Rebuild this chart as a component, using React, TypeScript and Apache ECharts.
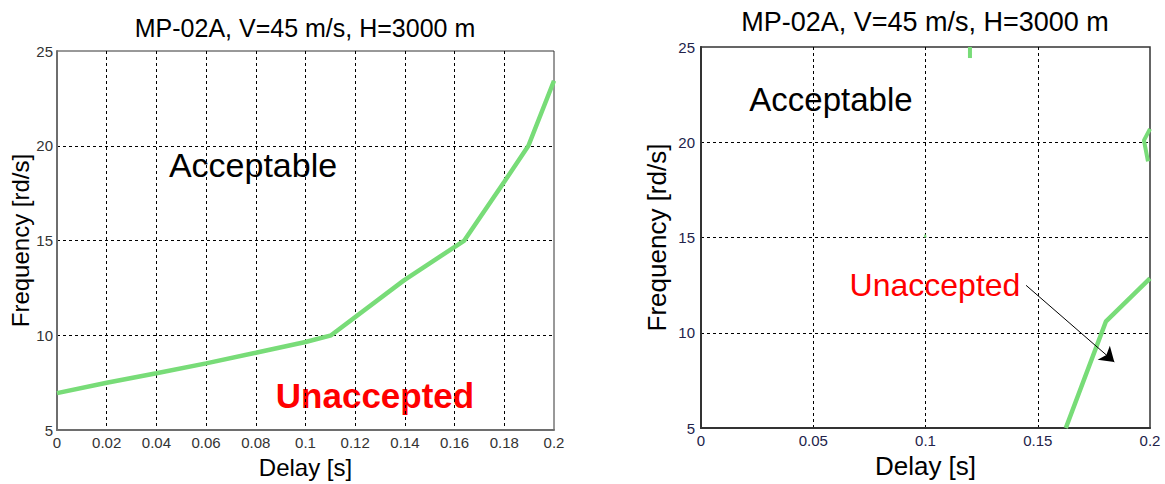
import React, { useEffect, useRef } from "react";
import * as echarts from "echarts";

const TITLE = "MP-02A, V=45 m/s, H=3000 m";
const X_NAME = "Delay [s]";
const Y_NAME = "Frequency [rd/s]";
const Y_TICKS = [5, 10, 15, 20, 25];

// left chart boundary curve
const leftDelay = [0, 0.02, 0.04, 0.06, 0.08, 0.1, 0.1103, 0.1396, 0.1639, 0.18, 0.1897, 0.2];
const leftFreq = [6.95, 7.5, 8.0, 8.52, 9.08, 9.65, 10.0, 12.9, 15.0, 18.1, 20.0, 23.43];

// right chart boundary pieces
const rightMainDelay = [0.1625, 0.1804, 0.2];
const rightMainFreq = [5.0, 10.6, 12.85];
const rightTopDelay = [0.1198, 0.1198];
const rightTopFreq = [25.0, 24.42];
const rightEdgeDelay = [0.2, 0.1973, 0.1991];
const rightEdgeFreq = [20.7, 20.1, 19.0];
const rightDotDelay = [0.0998, 0.1];
const rightDotFreq = [15.15, 15.0];

// arrow from "Unaccepted" label
const arrowFrom = [0.1448, 12.49];
const arrowTo = [0.1841, 8.47];

const GREEN = "#78dc78";
const FONT = "'Liberation Sans', Arial, sans-serif";

const zip = (xs: number[], ys: number[]) => xs.map((x, i) => [x, ys[i]]);

export default function App() {
  const ref = useRef<HTMLDivElement>(null);
  useEffect(() => {
    if (!ref.current) return;
    const chart = echarts.init(ref.current, undefined, { renderer: "svg" });
    const xAxisBase = (grid: number, interval: number, gap: number, size: number, labelColor: string, lineColor: string) => ({
      type: "value",
      gridIndex: grid,
      min: 0,
      max: 0.2,
      interval,
      name: X_NAME,
      nameLocation: "middle",
      nameGap: gap,
      nameTextStyle: { fontSize: size, color: "#000", fontFamily: FONT },
      axisLine: { show: true, onZero: false, lineStyle: { color: lineColor, width: 2 } },
      axisTick: { show: false },
      axisLabel: { fontSize: 15, color: labelColor, margin: 5, fontFamily: FONT },
      splitLine: { show: true, showMinLine: false, showMaxLine: false, lineStyle: { color: "#000", type: [3, 3], width: 1 } },
    });
    const yAxisBase = (grid: number, gap: number, size: number, labelColor: string, lineColor: string, margin: number) => ({
      type: "value",
      gridIndex: grid,
      min: Y_TICKS[0],
      max: Y_TICKS[Y_TICKS.length - 1],
      interval: 5,
      name: Y_NAME,
      nameLocation: "middle",
      nameGap: gap,
      nameTextStyle: { fontSize: size, color: "#000", fontFamily: FONT },
      axisLine: { show: true, onZero: false, lineStyle: { color: lineColor, width: 2 } },
      axisTick: { show: false },
      axisLabel: { fontSize: 15, color: labelColor, margin, fontFamily: FONT },
      splitLine: { show: true, showMinLine: false, showMaxLine: false, lineStyle: { color: "#000", type: [3, 3], width: 1 } },
    });
    chart.setOption({
      animation: false,
      backgroundColor: "#fff",
      textStyle: { fontFamily: FONT },
      title: [
        { text: TITLE, left: 305, top: 15, textAlign: "center", padding: 0, textStyle: { fontSize: 25, fontWeight: "normal", color: "#000", fontFamily: FONT } },
        { text: TITLE, left: 925, top: 8, textAlign: "center", padding: 0, textStyle: { fontSize: 27, fontWeight: "normal", color: "#000", fontFamily: FONT } },
      ],
      grid: [
        { left: 57, top: 51, width: 497, height: 384, show: true, borderColor: "#333", borderWidth: 1, backgroundColor: "#fff" },
        { left: 701, top: 47, width: 449, height: 382, show: true, borderColor: "#333", borderWidth: 1.5, backgroundColor: "#fff" },
      ],
      xAxis: [
        xAxisBase(0, 0.02, 24, 24, "#333", "#6e6e6e"),
        xAxisBase(1, 0.05, 25, 26, "#22224a", "#333"),
      ],
      yAxis: [
        yAxisBase(0, 22, 24, "#333", "#6e6e6e", 4),
        yAxisBase(1, 31, 26, "#22224a", "#333", 6),
      ],
      series: [
        { type: "line", xAxisIndex: 0, yAxisIndex: 0, data: zip(leftDelay, leftFreq), symbol: "none", lineStyle: { color: GREEN, width: 4.5 }, silent: true },
        {
          type: "line", xAxisIndex: 1, yAxisIndex: 1, data: zip(rightMainDelay, rightMainFreq), symbol: "none", lineStyle: { color: GREEN, width: 4.5 }, silent: true,
          markLine: {
            silent: true,
            symbol: ["none", "arrow"],
            symbolSize: 14,
            label: { show: false },
            itemStyle: { color: "#000" },
            lineStyle: { color: "#000", width: 1, type: "solid" },
            data: [[{ coord: arrowFrom }, { coord: arrowTo }]],
          },
        },
        { type: "line", xAxisIndex: 1, yAxisIndex: 1, data: zip(rightTopDelay, rightTopFreq), symbol: "none", lineStyle: { color: GREEN, width: 4 }, silent: true },
        { type: "line", xAxisIndex: 1, yAxisIndex: 1, data: zip(rightEdgeDelay, rightEdgeFreq), symbol: "none", lineStyle: { color: GREEN, width: 4 }, silent: true },
        { type: "line", xAxisIndex: 1, yAxisIndex: 1, data: zip(rightDotDelay, rightDotFreq), symbol: "none", lineStyle: { color: GREEN, width: 2 }, silent: true },
      ],
      graphic: [
        { type: "text", x: 253, y: 165, style: { text: "Acceptable", fontSize: 34, fontFamily: FONT, fill: "#000", align: "center", verticalAlign: "middle" } },
        { type: "text", x: 375, y: 395, style: { text: "Unaccepted", fontSize: 35, fontWeight: "bold", fontFamily: FONT, fill: "#ff0000", align: "center", verticalAlign: "middle" } },
        { type: "text", x: 831, y: 99, style: { text: "Acceptable", fontSize: 33, fontFamily: FONT, fill: "#000", align: "center", verticalAlign: "middle" } },
        { type: "text", x: 935, y: 285, style: { text: "Unaccepted", fontSize: 32, fontFamily: FONT, fill: "#ff0000", align: "center", verticalAlign: "middle" } },
      ],
    });
    return () => chart.dispose();
  }, []);
  return <div ref={ref} style={{ position: "absolute", left: 0, top: 0, width: 1165, height: 484 }} />;
}
